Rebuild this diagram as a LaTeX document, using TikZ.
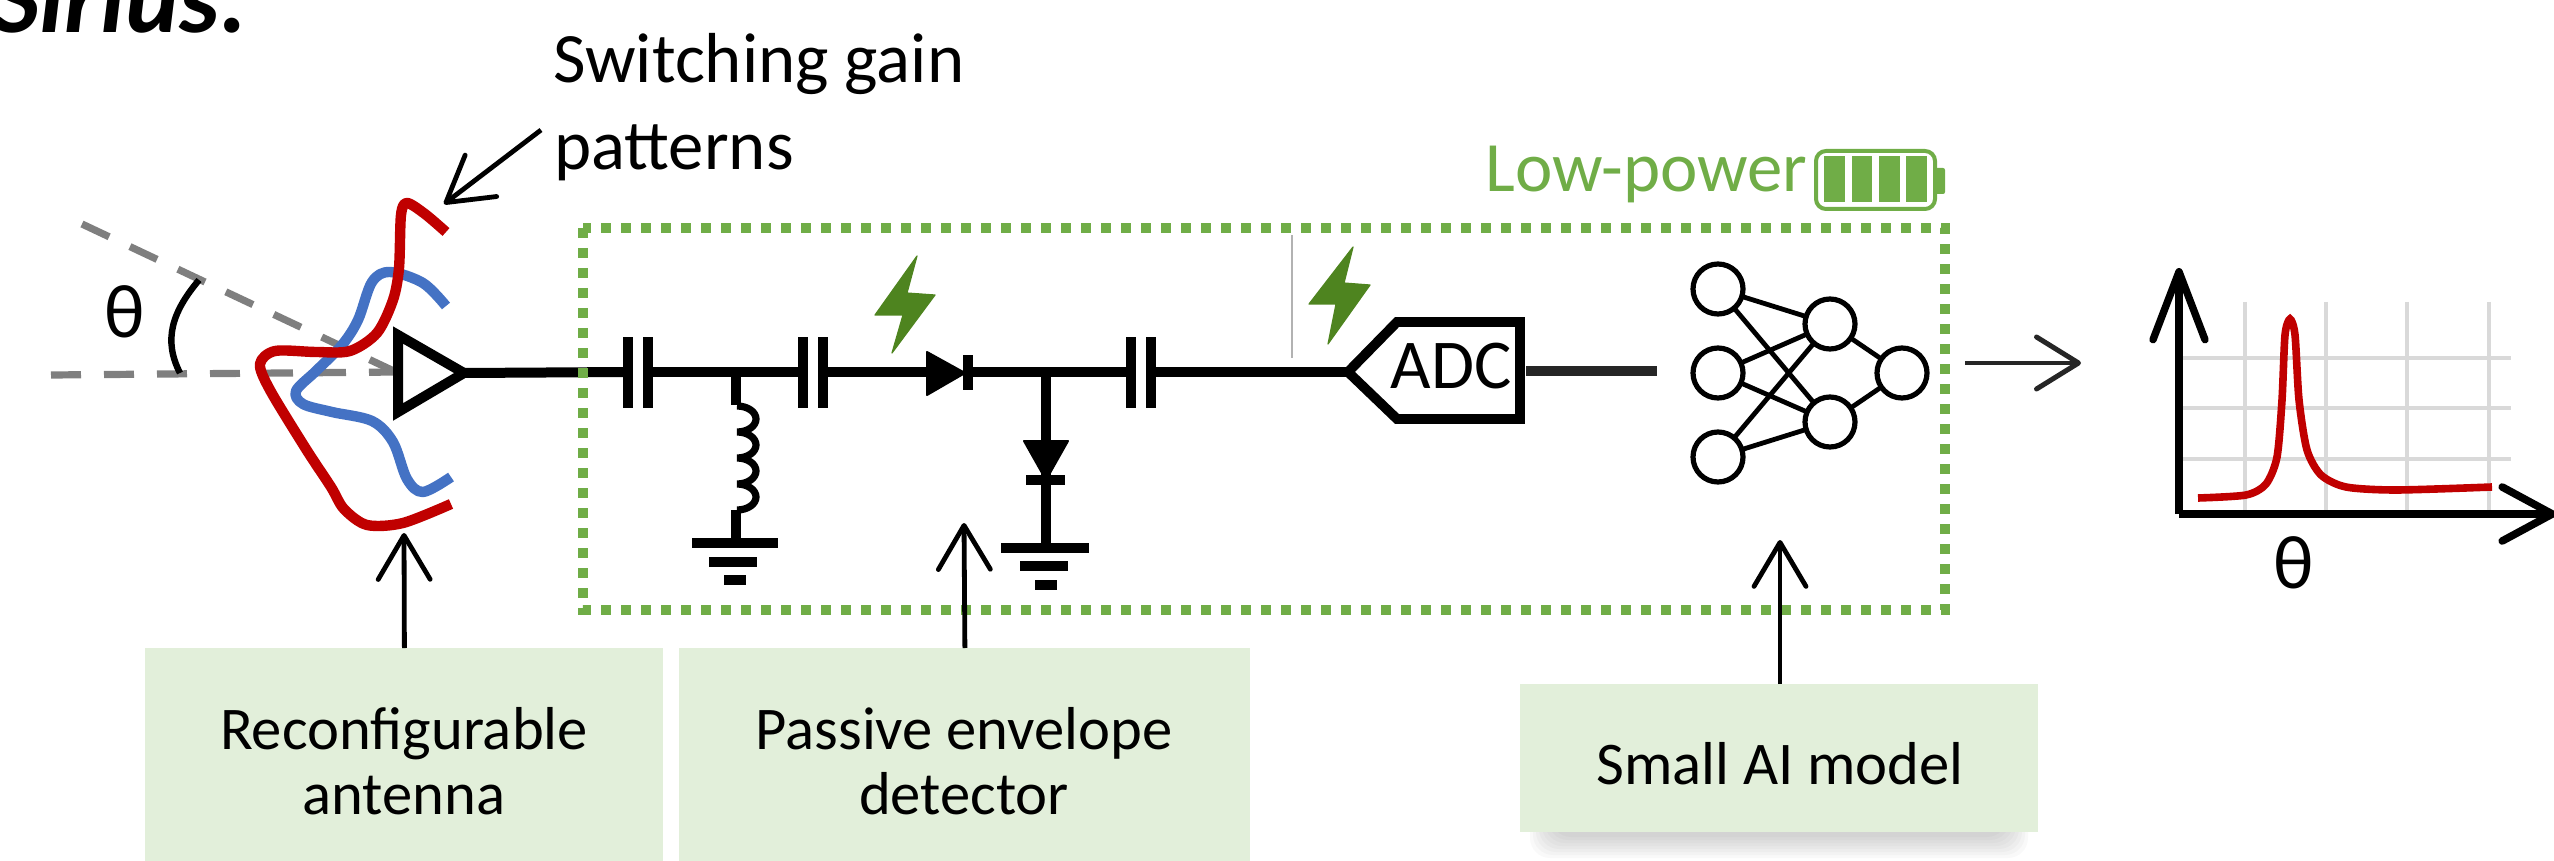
\documentclass[tikz,border=0pt]{standalone}
\usepackage{fontspec}
\setmainfont{Carlito}
\usetikzlibrary{arrows.meta,calc}
\definecolor{grn}{HTML}{70AD47}
\definecolor{boltc}{HTML}{4E841F}
\definecolor{redc}{HTML}{C00000}
\definecolor{bluec}{HTML}{4472C4}
\definecolor{boxc}{HTML}{E2EFDA}
\definecolor{gridc}{HTML}{D9D9D9}
\definecolor{dark}{HTML}{262626}
\definecolor{dashc}{HTML}{7F7F7F}
\tikzset{
  wire/.style={line width=5pt,black},
  stem/.style={line width=5pt,black},
  plate/.style={line width=5pt,black},
  gbar/.style={line width=5pt,black},
  coil/.style={line width=3.6pt,black},
  upar/.style={line width=2.4pt,black,-{Straight Barb[length=22pt,width=26pt,line width=2.4pt,round]}},
  dashline/.style={line width=3.6pt,color=dashc,dash pattern=on 15pt off 11.5pt},
  lobe/.style={line width=5.2pt,line join=round},
  nnc/.style={circle,draw=black,line width=2.6pt,minimum size=25pt,inner sep=0pt,fill=white},
  nnl/.style={line width=2.4pt,black},
  lab/.style={font=\fontsize{30.3}{32.5}\selectfont,align=center,text=black},
  big/.style={font=\fontsize{35.4}{42}\selectfont,anchor=base west,inner sep=0pt},
  greenbox/.style={fill=boxc,draw=none,inner sep=0pt,anchor=north west},
  dio/.style={fill=black,draw=black,line width=1pt,line join=round},
  boltf/.style={fill=boltc,draw=boltc,line width=0.6pt,line join=round},
}
\begin{document}
\begin{tikzpicture}[x=0.5pt,y=-0.5pt]
\useasboundingbox (0,0) rectangle (2554,861);
\clip (0,0) rectangle (2554,861);

% title
\node[anchor=base west,inner sep=0pt,font=\fontsize{51}{56}\selectfont\bfseries\itshape] (title) at (-8,33) {Sirius:};

% soft shadow under the third box
\foreach \d in {0,3,6,9,12,15,18,21}
  \fill[black,opacity=0.022,rounded corners=10pt] (1530+\d,800) rectangle (2028-\d,858-\d);

% green boxes
\node[greenbox,minimum width=259pt,minimum height=110pt] (b1) at (145,648) {};
\node[greenbox,minimum width=285.5pt,minimum height=110pt] (b2) at (679,648) {};
\node[greenbox,minimum width=259pt,minimum height=74pt] (b3) at (1520,684) {};
\node[lab] (t1) at (404,761) {Reconfigurable\\antenna};
\node[lab] (t2) at (964,761) {Passive envelope\\detector};
\node[lab,anchor=base] (t3) at (1780,784) {Small AI model};

% angle
\coordinate (hs) at (51,375);
\coordinate (he) at (398,372);
\coordinate (ss) at (82,224);
\coordinate (se) at (398,373);
\draw[dashline] (hs) -- (he);
\draw[dashline] (ss) -- (se);
\draw[black,line width=3.2pt] (199,280) .. controls (172,312) and (163,340) .. (180,373);
\node[font=\fontsize{38}{42}\selectfont,inner sep=0pt] (th1) at (125,312) {θ};

% radiation patterns
\draw[lobe,bluec,line cap=butt] plot[smooth,tension=0.55] coordinates {
 (446,306) (423,283) (390,272) (372,282) (358,320) (342,345) (316,371) (296,391) (303,404)
 (332,412) (372,421) (393,442) (407,479) (423,492) (451,477)};
\draw[lobe,redc,line cap=butt] plot[smooth,tension=0.5] coordinates {
 (446,232) (425,214) (407,203) (401,215) (399,268) (393,300) (377,333) (350,351) (316,352)
 (275,351) (260,364) (270,390) (306,449) (331,487) (344,509) (367,525) (403,523) (451,504)};

% amplifier
\coordinate (ampa) at (398,335);
\coordinate (ampb) at (398,412);
\coordinate (amptip) at (464,373);
\draw[black,line width=5pt,miter limit=10] (ampa) -- (ampb) -- (amptip) -- cycle;

% main wire
\coordinate (c1a) at (628,372);
\coordinate (c1b) at (648,372);
\coordinate (c2a) at (803,372);
\coordinate (c2b) at (823,372);
\coordinate (d1a) at (928,372);
\coordinate (d1k) at (968,372);
\coordinate (c3a) at (1131,372);
\coordinate (c3b) at (1151,372);
\coordinate (jl) at (736,372);
\coordinate (jd) at (1046,372);
\coordinate (adctip) at (1348,372);
\draw[wire] (amptip) -- (c1a);
\draw[wire] (c1b) -- (c2a);
\draw[wire] (c2b) -- (d1a);
\draw[wire] (d1k) -- (c3a);
\draw[wire] (c3b) -- (adctip);
% capacitors
\foreach \n in {c1a,c1b,c2a,c2b,c3a,c3b}
  \draw[plate] ($(\n)+(0,-35)$) -- ($(\n)+(0,36)$);

% inductor branch
\coordinate (l0) at (736,405);
\coordinate (l1) at (736,510);
\coordinate (g1) at (736,543);
\draw[stem] (jl) -- (l0);
\draw[coil] (737,406) arc[start angle=-90,end angle=90,x radius=19,y radius=13]
            arc[start angle=-90,end angle=90,x radius=19,y radius=13]
            arc[start angle=-90,end angle=90,x radius=19,y radius=13]
            arc[start angle=-90,end angle=90,x radius=19,y radius=13];
\draw[stem] (l1) -- (g1);
\draw[gbar] (692,543) -- (778,543);
\draw[gbar] (709,562) -- (757,562);
\draw[gbar] (724,580) -- (746,580);

% series diode
\draw[dio] (927,352) -- (927,395) -- (965,373) -- cycle;
\draw[plate] (968,355) -- (968,390);

% shunt diode
\coordinate (g2) at (1046,548);
\draw[stem] (jd) -- (g2);
\draw[dio] (1024,441) -- (1068,441) -- (1046,480) -- cycle;
\draw[plate] (1026,480) -- (1065,480);
\draw[gbar] (1001,548) -- (1089,548);
\draw[gbar] (1020,566) -- (1068,566);
\draw[gbar] (1035,585) -- (1057,585);

% bolts
\fill[boltf] (917,256) -- (875,315) -- (903,315) -- (892,353) -- (935,295) -- (907,293) -- cycle;
\fill[boltf] (1353,247) -- (1309,304) -- (1336,304) -- (1328,344) -- (1370,285) -- (1344,283) -- cycle;
\draw[gray!60,line width=0.6pt] (1292,235) -- (1292,358);

% ADC
\draw[black,line width=4.9pt,line join=miter] (adctip) -- (1397,322) -- (1520,322) -- (1520,419) -- (1397,419) -- cycle;
\node[font=\fontsize{35}{42}\selectfont,anchor=base,inner sep=0pt] (adc) at (1451,388) {ADC};
\coordinate (adcout) at (1526,371);
\coordinate (nnin) at (1657,371);
\draw[wire,dark] (adcout) -- (nnin);

% neural network
\coordinate (i1p) at (1718,289);
\coordinate (i2p) at (1718,373);
\coordinate (i3p) at (1718,457);
\coordinate (h1p) at (1830,324);
\coordinate (h2p) at (1830,422);
\coordinate (op) at (1902,373);
\foreach \a in {i1p,i2p,i3p} \foreach \b in {h1p,h2p}
  \draw[nnl] (\a) -- (\b);
\draw[nnl] (h1p) -- (op);
\draw[nnl] (h2p) -- (op);
\node[nnc] (i1) at (i1p) {};
\node[nnc] (i2) at (i2p) {};
\node[nnc] (i3) at (i3p) {};
\node[nnc] (h1) at (h1p) {};
\node[nnc] (h2) at (h2p) {};
\node[nnc] (o1) at (op) {};

% green dotted frame
\draw[grn,line width=4.8pt,dash pattern=on 5pt off 5pt] (583,228) rectangle (1945,610);

% low-power label and battery
\node[big,text=grn] (lp) at (1485,192) {Low-power};
\draw[grn,line width=2pt,rounded corners=5pt] (1816,151) rectangle (1935,209);
\foreach \x in {1824,1851.5,1879,1906}
  \fill[grn] (\x,156) rectangle +(20.5,46);
\fill[grn,rounded corners=1pt] (1935,168) rectangle (1945,194);

% callouts
\node[big] (sg) at (553,83) {Switching gain};
\node[big] (pt) at (554,170) {patterns};
\coordinate (pttail) at (541,130);
\coordinate (pttip) at (444,204);
\draw[upar] (pttail) -- (pttip);
\coordinate (u1) at (404,533);
\coordinate (u2) at (964,523);
\coordinate (u3) at (1780,540);
\draw[upar] (b1.north) -- (u1);
\draw[upar] (b2.north) -- (u2);
\draw[upar] (b3.north -| u3) -- (u3);

% output arrow
\coordinate (nnout) at (1965,363);
\coordinate (plotin) at (2081,363);
\draw[upar,dark,-{Straight Barb[length=21pt,width=26pt,line width=2.5pt,round]}] (nnout) -- (plotin);

% plot
\foreach \x in {2245,2326,2407,2489}
  \draw[gridc,line width=2.2pt] (\x,302) -- (\x,514);
\foreach \y in {358,408,459}
  \draw[gridc,line width=2.2pt] (2183,\y) -- (2511,\y);
\coordinate (orig) at (2179,514);
\coordinate (ytip) at (2179,268);
\coordinate (xtip) at (2556,514);
\draw[black,line width=3.7pt,-{Straight Barb[length=34pt,width=26pt,line width=3.7pt,round]}] (orig) -- (ytip);
\draw[black,line width=3.8pt,-{Straight Barb[length=25pt,width=27pt,line width=3.8pt,round]}] (orig) -- (xtip);
\draw[redc,line width=3.8pt] plot[smooth,tension=0.45] coordinates {
 (2198,498) (2246,495) (2266,484) (2277,457) (2282,400) (2285,335) (2290,319) (2295,335)
 (2299,400) (2307,450) (2321,475) (2346,487) (2396,490) (2492,487)};
\node[font=\fontsize{38}{42}\selectfont,inner sep=0pt] (th2) at (2294,563) {θ};
\end{tikzpicture}
\end{document}
